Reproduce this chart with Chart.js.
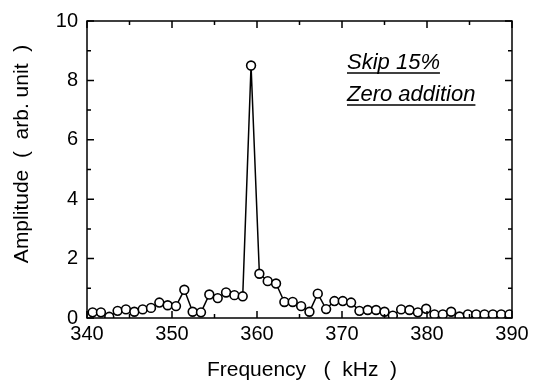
<!DOCTYPE html>
<html>
<head>
<meta charset="utf-8">
<script src="https://cdn.jsdelivr.net/npm/chart.js@4.4.1/dist/chart.umd.min.js"></script>
<style>
  body { margin: 0; background: #fff; }
  #wrap { width: 533px; height: 387px; }
</style>
</head>
<body>
<div id="wrap"><canvas id="spectrumChart" width="533" height="387"></canvas></div>
<script>
// Spectrum data
const frequencies = [
  340.66, 341.64, 342.62, 343.60, 344.58, 345.57, 346.55, 347.53, 348.51, 349.49,
  350.47, 351.45, 352.43, 353.41, 354.39, 355.38, 356.36, 357.34, 358.32, 359.30,
  360.28, 361.26, 362.24, 363.22, 364.20, 365.19, 366.17, 367.15, 368.13, 369.11,
  370.09, 371.07, 372.05, 373.03, 374.01, 375.00, 375.98, 376.96, 377.94, 378.92,
  379.90, 380.88, 381.86, 382.84, 383.82, 384.81, 385.79, 386.77, 387.75, 388.73,
  389.71
];
const amplitudes = [
  0.19, 0.19, 0.04, 0.24, 0.29, 0.21, 0.29, 0.34, 0.52, 0.43,
  0.40, 0.95, 0.21, 0.19, 0.79, 0.67, 0.86, 0.77, 0.73, 8.50,
  1.49, 1.24, 1.16, 0.54, 0.54, 0.40, 0.21, 0.82, 0.30, 0.57,
  0.57, 0.52, 0.24, 0.27, 0.27, 0.21, 0.08, 0.29, 0.27, 0.19,
  0.31, 0.12, 0.12, 0.21, 0.05, 0.12, 0.12, 0.12, 0.12, 0.12,
  0.12
];
const xTitle = 'Frequency   (  kHz  )';
const yTitle = 'Amplitude  (  arb. unit  )';
const notes = ['Skip 15%', 'Zero addition'];

const FONT = "'Liberation Sans', Arial, sans-serif";

// frame, inner ticks, titles and the underlined note
const decorPlugin = {
  id: 'decor',
  afterDraw(chart) {
    const { ctx, chartArea: a, scales } = chart;
    const xs = scales.x, ys = scales.y;
    ctx.save();
    ctx.strokeStyle = '#000';
    ctx.lineWidth = 1.5;
    ctx.strokeRect(a.left, a.top, a.right - a.left, a.bottom - a.top);

    ctx.beginPath();
    for (let v = 340; v <= 390; v += 5) {
      const px = xs.getPixelForValue(v);
      const len = v % 10 === 0 ? 7 : 4;
      ctx.moveTo(px, a.bottom); ctx.lineTo(px, a.bottom - len);
      ctx.moveTo(px, a.top); ctx.lineTo(px, a.top + len);
    }
    for (let v = 0; v <= 10; v += 1) {
      const py = ys.getPixelForValue(v);
      const len = v % 2 === 0 ? 7 : 4;
      ctx.moveTo(a.left, py); ctx.lineTo(a.left + len, py);
      ctx.moveTo(a.right, py); ctx.lineTo(a.right - len, py);
    }
    ctx.stroke();

    ctx.fillStyle = '#000';
    ctx.font = '21px ' + FONT;
    ctx.textAlign = 'center';
    ctx.textBaseline = 'middle';
    ctx.fillText(xTitle, 302, 370);
    ctx.save();
    ctx.translate(22, 154);
    ctx.rotate(-Math.PI / 2);
    ctx.fillText(yTitle, 0, 0);
    ctx.restore();

    ctx.font = 'italic 22px ' + FONT;
    ctx.textAlign = 'left';
    ctx.textBaseline = 'alphabetic';
    ctx.lineWidth = 1.5;
    const baselines = [69, 101];
    notes.forEach((t, i) => {
      const w = ctx.measureText(t).width;
      ctx.fillText(t, 347, baselines[i]);
      ctx.beginPath();
      ctx.moveTo(347, baselines[i] + 4);
      ctx.lineTo(347 + w, baselines[i] + 4);
      ctx.stroke();
    });
    ctx.restore();
  }
};

new Chart(document.getElementById('spectrumChart').getContext('2d'), {
  type: 'scatter',
  data: {
    datasets: [{
      data: frequencies.map((f, i) => ({ x: f, y: amplitudes[i] })),
      showLine: true,
      borderColor: '#000',
      borderWidth: 1.5,
      pointRadius: 4.4,
      pointBackgroundColor: '#fff',
      pointBorderColor: '#000',
      pointBorderWidth: 1.6,
      tension: 0
    }]
  },
  options: {
    responsive: false,
    animation: false,
    layout: { padding: { top: 17, right: 21, left: 0, bottom: 0 } },
    plugins: { legend: { display: false }, tooltip: { enabled: false } },
    scales: {
      x: {
        type: 'linear',
        min: 340, max: 390,
        grid: { display: false, drawTicks: false },
        border: { display: false },
        ticks: { stepSize: 10, padding: 4, color: '#000', font: { family: FONT, size: 20 }, maxRotation: 0 },
        afterFit(scale) { scale.height = 69; }
      },
      y: {
        min: 0, max: 10,
        grid: { display: false, drawTicks: false },
        border: { display: false },
        ticks: { stepSize: 2, padding: 9, color: '#000', font: { family: FONT, size: 20 } },
        afterFit(scale) { scale.width = 87; }
      }
    }
  },
  plugins: [decorPlugin]
});
</script>
</body>
</html>
